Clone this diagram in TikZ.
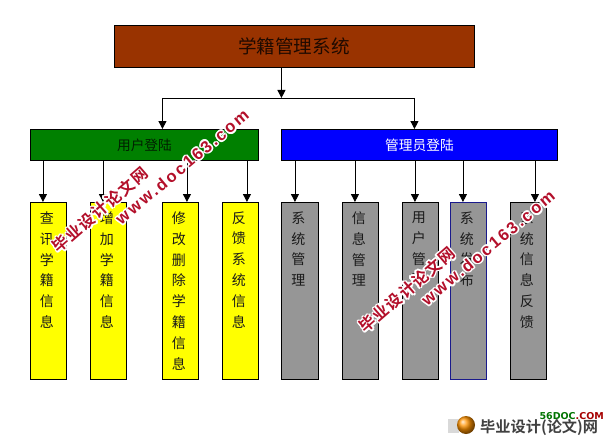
\documentclass[tikz,border=0pt]{standalone}
\usepackage{fontspec}
\setmainfont{Noto Sans CJK SC}
\newfontfamily\wmlat[LetterSpace=14]{Liberation Sans Bold}
\newfontfamily\wmcjk[LetterSpace=8]{Noto Sans CJK SC Bold}
\newfontfamily\lgcjk{Noto Sans CJK SC Bold}
\newfontfamily\lglat{DejaVu Sans Bold}
\usetikzlibrary{arrows.meta,shadings}
\definecolor{cbrown}{HTML}{993300}
\definecolor{cgreen}{HTML}{008000}
\definecolor{cblue}{HTML}{0000FF}
\definecolor{cyel}{HTML}{FFFF00}
\definecolor{cgray}{HTML}{969696}
\definecolor{csel}{HTML}{1A1A8C}
\definecolor{cmark}{HTML}{B30F2A}
\definecolor{ctxt}{HTML}{1A1A1A}
\tikzset{
  hdr/.style={draw=black,line width=0.9pt,inner sep=0pt,anchor=north west,font=\fontsize{13.7}{16}\selectfont},
  colbox/.style={draw=black,line width=0.9pt,inner sep=0pt,anchor=north west,text=ctxt},
  arr/.style={draw=black,line width=0.9pt,-{Triangle[width=8pt,length=8pt]}},
  wire/.style={draw=black,line width=0.9pt},
}
\newcommand{\colnode}[6][black]{%
  \node[colbox,draw=#1,fill=#3,minimum width=#4pt,minimum height=177pt] (#2) at (#5,202)
    {\parbox[c][177pt][t]{#4pt}{\centering\advance\rightskip by 3pt\fontsize{14}{20.9}\selectfont
      \vspace*{9pt}\par #6}};}
\newcommand{\conn}[3]{%
  \path ([xshift=#3pt]#2.north) coordinate (tip-#2);
  \draw[arr] (tip-#2 |- #1.south) -- (tip-#2);}
\newcommand{\halo}[5]{% name, x, y, angle, font+text
  \foreach \dx/\dy in {-1.6/0,1.6/0,0/-1.6,0/1.6,-1.2/-1.2,1.2/1.2,-1.2/1.2,1.2/-1.2}{
    \node[text=white,rotate=#4,xshift=\dx pt,yshift=\dy pt,inner sep=0pt] at (#2,#3) {#5};}
  \node[text=cmark,rotate=#4,inner sep=0pt] (#1) at (#2,#3) {#5};}
\begin{document}
\begin{tikzpicture}[x=1pt,y=-1pt]
\useasboundingbox[fill=white] (0,0) rectangle (612,441);
% main boxes
\node[hdr,fill=cbrown,text=black!80!cbrown,minimum width=360pt,minimum height=42pt,font=\fontsize{18.6}{20}\selectfont] (root) at (114,25) {\raisebox{-6pt}{\hspace*{-1pt}学籍管理系统}};
\node[hdr,fill=cgreen,text=black!75!cgreen,minimum width=228pt,minimum height=31pt] (user) at (30,129) {用户登陆};
\node[hdr,fill=cblue,text=white,minimum width=276pt,minimum height=31pt] (admin) at (281,129) {管理员登陆};
% columns
\colnode{y1}{cyel}{36}{30}{查\\讯\\学\\籍\\信\\息}
\colnode{y2}{cyel}{36}{90}{增\\加\\学\\籍\\信\\息}
\colnode{y3}{cyel}{36}{162}{修\\改\\删\\除\\学\\籍\\信\\息}
\colnode{y4}{cyel}{36}{222}{反\\馈\\系\\统\\信\\息}
\colnode{g1}{cgray}{37}{281}{系\\统\\管\\理}
\colnode{g2}{cgray}{36}{342}{信\\息\\管\\理}
\colnode{g3}{cgray}{36}{402}{用\\户\\管\\理}
\colnode[csel]{g4}{cgray}{36}{450}{系\\统\\发\\布}
\colnode{g5}{cgray}{36}{510}{系\\统\\信\\息\\反\\馈}
% connectors
\path ([xshift=-13pt]root.south) coordinate (rt);
\coordinate (junc) at (rt |- 0,98);
\draw[arr] (rt) -- (junc);
\path ([xshift=18pt]user.north) coordinate (ul);
\path ([xshift=-5pt]admin.north) coordinate (ar);
\draw[wire] (ul |- junc) -- (ar |- junc);
\draw[arr] (ul |- junc) -- (ul);
\draw[arr] (ar |- junc) -- (ar);
\conn{user}{y1}{-5.5}
\conn{user}{y2}{-5.5}
\conn{user}{y3}{6.5}
\conn{user}{y4}{6.5}
\conn{admin}{g1}{-5}
\conn{admin}{g2}{-5.5}
\conn{admin}{g3}{-5.5}
\conn{admin}{g4}{-5.5}
\conn{admin}{g5}{6.5}
% watermarks
\halo{wm1}{100}{210}{41}{\wmcjk\fontsize{16}{18}\selectfont 毕业设计论文网}
\halo{wm2}{182}{167}{40}{\wmlat\fontsize{16.5}{18}\selectfont www.doc163.com}
\halo{wm3}{407}{290}{41}{\wmcjk\fontsize{16}{18}\selectfont 毕业设计论文网}
\halo{wm4}{488}{248}{40}{\wmlat\fontsize{16.5}{18}\selectfont www.doc163.com}
% logo
\fill[black!15] (448,419) rectangle (459,433);
\shade[ball color=orange!85!yellow] (466,425) circle (9);
\node[inner sep=0pt,anchor=west,text=black!75,font=\lgcjk\fontsize{15.2}{17}\selectfont] (lg1) at (480,427) {毕业设计(论文)网};
\node[inner sep=0pt,anchor=east,font=\lglat\fontsize{9.5}{10}\selectfont] (lg2) at (604,416) {\textcolor{green!45!black}{56DOC}\textcolor{red!65!black}{.COM}};
\end{tikzpicture}
\end{document}
